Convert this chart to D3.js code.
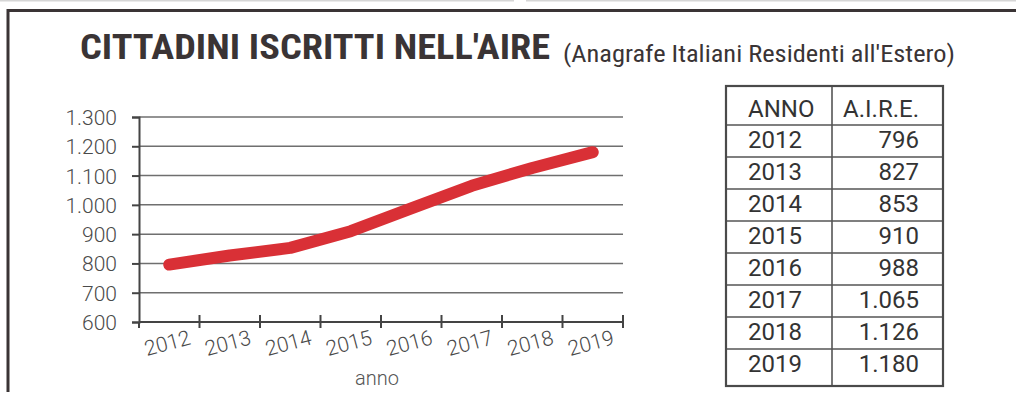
<!DOCTYPE html>
<html>
<head>
<meta charset="utf-8">
<script src="https://cdn.jsdelivr.net/npm/d3@7"></script>
<style>
  html, body { margin: 0; padding: 0; background: #fff; }
  svg { display: block; }
</style>
</head>
<body>
<svg id="chart" width="1016" height="394"></svg>
<script>
// Iscritti AIRE per anno (migliaia)
const years = ["2012", "2013", "2014", "2015", "2016", "2017", "2018", "2019"];
const aire = [796, 827, 853, 910, 988, 1065, 1126, 1180];
const yTicks = [600, 700, 800, 900, 1000, 1100, 1200, 1300];
const tableHeader = ["ANNO", "A.I.R.E."];

const title = "CITTADINI ISCRITTI NELL'AIRE";
const subtitle = "(Anagrafe Italiani Residenti all'Estero)";
const xAxisTitle = "anno";

const itLocale = d3.formatLocale({ decimal: ",", thousands: ".", grouping: [3], currency: ["€", ""] });
const fmt = itLocale.format(",d");

const svg = d3.select("#chart");
const ink = "#3a3435";
const textGrey = "#4a4a4a";

svg.append("rect").attr("width", 1016).attr("height", 394).attr("fill", "#fff");

// faint rule along the very top, with a small break
svg.append("line").attr("x1", 0).attr("x2", 514).attr("y1", 0.8).attr("y2", 0.8)
  .attr("stroke", "#d6d6d6").attr("stroke-width", 1.5);
svg.append("line").attr("x1", 526).attr("x2", 1016).attr("y1", 0.8).attr("y2", 0.8)
  .attr("stroke", "#d6d6d6").attr("stroke-width", 1.5);

// box frame: top and left edges
svg.append("path")
  .attr("d", "M8,392 L8,10.5 L1016,10.5")
  .attr("fill", "none").attr("stroke", ink).attr("stroke-width", 3);

// heading, squeezed to a condensed width
svg.append("text")
  .attr("x", 80).attr("y", 59)
  .attr("font-family", "'Roboto Condensed', 'Liberation Sans Narrow', Roboto, sans-serif")
  .attr("font-weight", 700).attr("font-size", 35)
  .attr("fill", ink)
  .attr("textLength", 470).attr("lengthAdjust", "spacingAndGlyphs")
  .text(title);
svg.append("text")
  .attr("x", 563).attr("y", 62)
  .attr("font-family", "'Roboto Condensed', 'Liberation Sans Narrow', Roboto, sans-serif")
  .attr("font-weight", 400).attr("font-size", 23.5)
  .attr("fill", ink)
  .attr("textLength", 392).attr("lengthAdjust", "spacingAndGlyphs")
  .text(subtitle);

// chart scales
const x = d3.scaleBand().domain(years).range([139, 623]).padding(0);
const y = d3.scaleLinear().domain([600, 1300]).range([322, 117]);

const g = svg.append("g");

// horizontal gridlines
g.selectAll("line.grid")
  .data(yTicks.filter(t => t > 600))
  .join("line")
  .attr("class", "grid")
  .attr("x1", 139).attr("x2", 623)
  .attr("y1", d => y(d)).attr("y2", d => y(d))
  .attr("stroke", "#6f6f6f").attr("stroke-width", 1.5);

// y axis
const yAxis = g.append("g")
  .attr("transform", "translate(139,0)")
  .call(d3.axisLeft(y).tickValues(yTicks).tickSize(7).tickPadding(15).tickFormat(fmt));
yAxis.select(".domain").attr("stroke", "#444").attr("stroke-width", 2);
yAxis.selectAll(".tick line").attr("stroke", "#444").attr("stroke-width", 2);
yAxis.selectAll(".tick text")
  .attr("font-family", "Roboto, sans-serif").attr("font-weight", 300)
  .attr("font-size", 21).attr("fill", textGrey).attr("dy", "0.36em");

// x axis line
g.append("line")
  .attr("x1", 139).attr("x2", 623).attr("y1", 322).attr("y2", 322)
  .attr("stroke", "#444").attr("stroke-width", 2);
// ticks at category boundaries, crossing the axis
g.selectAll("line.xtick")
  .data(years)
  .join("line")
  .attr("class", "xtick")
  .attr("x1", d => x(d) + x.bandwidth()).attr("x2", d => x(d) + x.bandwidth())
  .attr("y1", 315).attr("y2", 328)
  .attr("stroke", "#444").attr("stroke-width", 2);
g.append("line").attr("x1", 139).attr("x2", 139).attr("y1", 322).attr("y2", 328)
  .attr("stroke", "#444").attr("stroke-width", 2);

// slanted year labels
g.selectAll("text.xlab")
  .data(years)
  .join("text")
  .attr("class", "xlab")
  .attr("transform", d => `translate(${x(d) + x.bandwidth() / 2},${350}) rotate(-15)`)
  .attr("text-anchor", "middle")
  .attr("font-family", "Roboto, sans-serif").attr("font-weight", 300)
  .attr("font-size", 21).attr("fill", textGrey)
  .text(d => d);

g.append("text")
  .attr("x", 377).attr("y", 385)
  .attr("text-anchor", "middle")
  .attr("font-family", "Roboto, sans-serif").attr("font-weight", 300)
  .attr("font-size", 20).attr("fill", "#555")
  .text(xAxisTitle);

// data line
const line = d3.line()
  .x((d, i) => x(years[i]) + x.bandwidth() / 2)
  .y(d => y(d));
g.append("path")
  .datum(aire)
  .attr("d", line)
  .attr("fill", "none")
  .attr("stroke", "#d93036")
  .attr("stroke-width", 12)
  .attr("stroke-linecap", "round")
  .attr("stroke-linejoin", "round");

// data table
const tLeft = 726, tRight = 943, tMid = 832, tTop = 86;
const headH = 39, rowH = 32, lastH = 37;
const rowTops = years.map((d, i) => tTop + headH + i * rowH);
const tBottom = rowTops[rowTops.length - 1] + lastH;

const tg = svg.append("g");
tg.selectAll("line.rowsep")
  .data(rowTops)
  .join("line")
  .attr("class", "rowsep")
  .attr("x1", tLeft).attr("x2", tRight)
  .attr("y1", d => d).attr("y2", d => d)
  .attr("stroke", "#555").attr("stroke-width", 1.6);
tg.append("line").attr("x1", tMid).attr("x2", tMid).attr("y1", tTop).attr("y2", tBottom)
  .attr("stroke", "#555").attr("stroke-width", 1.6);
tg.append("rect")
  .attr("x", tLeft).attr("y", tTop)
  .attr("width", tRight - tLeft).attr("height", tBottom - tTop)
  .attr("fill", "none").attr("stroke", "#4a4a4a").attr("stroke-width", 2.2);

const cellFont = (sel) => sel
  .attr("font-family", "Roboto, sans-serif").attr("font-weight", 400)
  .attr("font-size", 24).attr("fill", "#333");

tg.append("text").attr("x", 748).attr("y", tTop + 31).call(cellFont).text(tableHeader[0]);
tg.append("text").attr("x", 919).attr("y", tTop + 31).attr("text-anchor", "end").call(cellFont).text(tableHeader[1]);

tg.selectAll("text.year")
  .data(years)
  .join("text")
  .attr("class", "year")
  .attr("x", 748).attr("y", (d, i) => rowTops[i] + 23)
  .call(cellFont)
  .text(d => d);
tg.selectAll("text.val")
  .data(aire)
  .join("text")
  .attr("class", "val")
  .attr("x", 919).attr("y", (d, i) => rowTops[i] + 23)
  .attr("text-anchor", "end")
  .call(cellFont)
  .text(d => fmt(d));
</script>
</body>
</html>
